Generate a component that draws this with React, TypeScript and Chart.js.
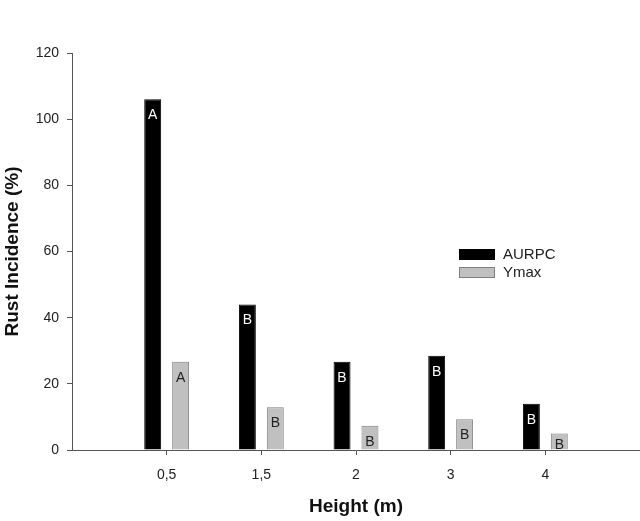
import React, { useEffect, useRef } from "react";
import { Chart, registerables } from "chart.js";

Chart.register(...registerables);

const categories = ["", "0,5", "1,5", "2", "3", "4", ""];
const aurpcValues = [null, 106, 44, 26.7, 28.5, 14.0, null];
const ymaxValues = [null, 26.7, 12.9, 7.3, 9.3, 5.0, null];
const aurpcLetters = ["", "A", "B", "B", "B", "B", ""];
const ymaxLetters = ["", "A", "B", "B", "B", "B", ""];
const seriesNames = ["AURPC", "Ymax"];
const yTicksMax = 120;
const yStep = 20;

const FONT = "'Liberation Sans', Arial, sans-serif";

const letterPlugin = {
  id: "letters",
  afterDatasetsDraw(chart: any) {
    const ctx = chart.ctx;
    const lists = [aurpcLetters, ymaxLetters];
    const colors = ["#ffffff", "#222222"];
    ctx.save();
    ctx.font = `14px ${FONT}`;
    ctx.textAlign = "center";
    ctx.textBaseline = "alphabetic";
    chart.data.datasets.forEach((ds: any, di: number) => {
      const meta = chart.getDatasetMeta(di);
      meta.data.forEach((el: any, i: number) => {
        const t = lists[di][i];
        if (!t || ds.data[i] == null) return;
        ctx.fillStyle = colors[di];
        const off = el.base - el.y < 22 ? el.base - el.y - 1 : 20;
        ctx.fillText(t, el.x, el.y + Math.max(off, 15));
      });
    });
    ctx.restore();
  },
};

const legendPlugin = {
  id: "customLegend",
  afterDraw(chart: any) {
    const ctx = chart.ctx;
    const a = chart.chartArea;
    const x0 = a.left + 387;
    const y0 = a.top + 196;
    ctx.save();
    ctx.font = `15px ${FONT}`;
    ctx.textBaseline = "middle";
    ctx.textAlign = "left";
    const fills = ["#000000", "#c0c0c0"];
    const borders = ["#000000", "#808080"];
    seriesNames.forEach((n, i) => {
      const y = y0 + i * 18;
      ctx.fillStyle = fills[i];
      ctx.fillRect(x0, y, 36, 11);
      ctx.strokeStyle = borders[i];
      ctx.lineWidth = 1;
      ctx.strokeRect(x0 + 0.5, y + 0.5, 35, 10);
      ctx.fillStyle = "#222";
      ctx.fillText(n, x0 + 44, y + 6);
    });
    ctx.restore();
  },
};

export default function App() {
  const ref = useRef<HTMLCanvasElement>(null);
  useEffect(() => {
    document.body.style.margin = "0";
    const chart = new Chart(ref.current as HTMLCanvasElement, {
      type: "bar",
      data: {
        labels: categories,
        datasets: [
          {
            label: seriesNames[0],
            data: aurpcValues as any,
            backgroundColor: "#000000",
            borderColor: "#000000",
            borderWidth: 1,
            categoryPercentage: 0.59,
            barPercentage: 0.607,
          },
          {
            label: seriesNames[1],
            data: ymaxValues as any,
            backgroundColor: "#c0c0c0",
            borderColor: "#808080",
            borderWidth: 1,
            categoryPercentage: 0.59,
            barPercentage: 0.607,
          },
        ],
      },
      options: {
        animation: false,
        responsive: false,
        maintainAspectRatio: false,
        layout: { padding: { top: 53, right: 0, bottom: 0, left: 0 } },
        plugins: { legend: { display: false }, tooltip: { enabled: false } },
        scales: {
          x: {
            type: "category",
            offset: false,
            grid: {
              display: true,
              offset: false,
              drawOnChartArea: false,
              drawTicks: true,
              tickLength: 5,
              color: "#555",
              tickColor: (c: any) =>
                c.index === 0 || c.index === categories.length - 1 ? "rgba(0,0,0,0)" : "#555",
            },
            border: { display: true, color: "#555", width: 1 },
            ticks: {
              color: "#222",
              font: { family: FONT, size: 14 },
              padding: 12,
              maxRotation: 0,
              autoSkip: false,
            },
            title: {
              display: true,
              text: "Height (m)",
              color: "#111",
              font: { family: FONT, size: 19, weight: "bold" },
              padding: { top: 0, bottom: 3 },
            },
            afterFit(s: any) {
              s.height = 71;
              s.paddingRight = 0;
              s.paddingLeft = 0;
            },
          },
          y: {
            min: 0,
            max: yTicksMax,
            grid: {
              display: true,
              drawOnChartArea: false,
              drawTicks: true,
              tickLength: 5,
              color: "#555",
            },
            border: { display: true, color: "#555", width: 1 },
            ticks: {
              stepSize: yStep,
              color: "#222",
              font: { family: FONT, size: 14 },
              padding: 8,
            },
            title: {
              display: true,
              text: "Rust Incidence (%)",
              color: "#111",
              font: { family: FONT, size: 19, weight: "bold" },
              padding: { top: 1, bottom: 0 },
            },
            afterFit(s: any) {
              s.width = 72;
            },
          },
        },
      } as any,
      plugins: [letterPlugin, legendPlugin],
    });
    return () => chart.destroy();
  }, []);
  return (
    <div style={{ width: 640, height: 521, background: "#fff" }}>
      <canvas ref={ref} width={640} height={521} />
    </div>
  );
}
